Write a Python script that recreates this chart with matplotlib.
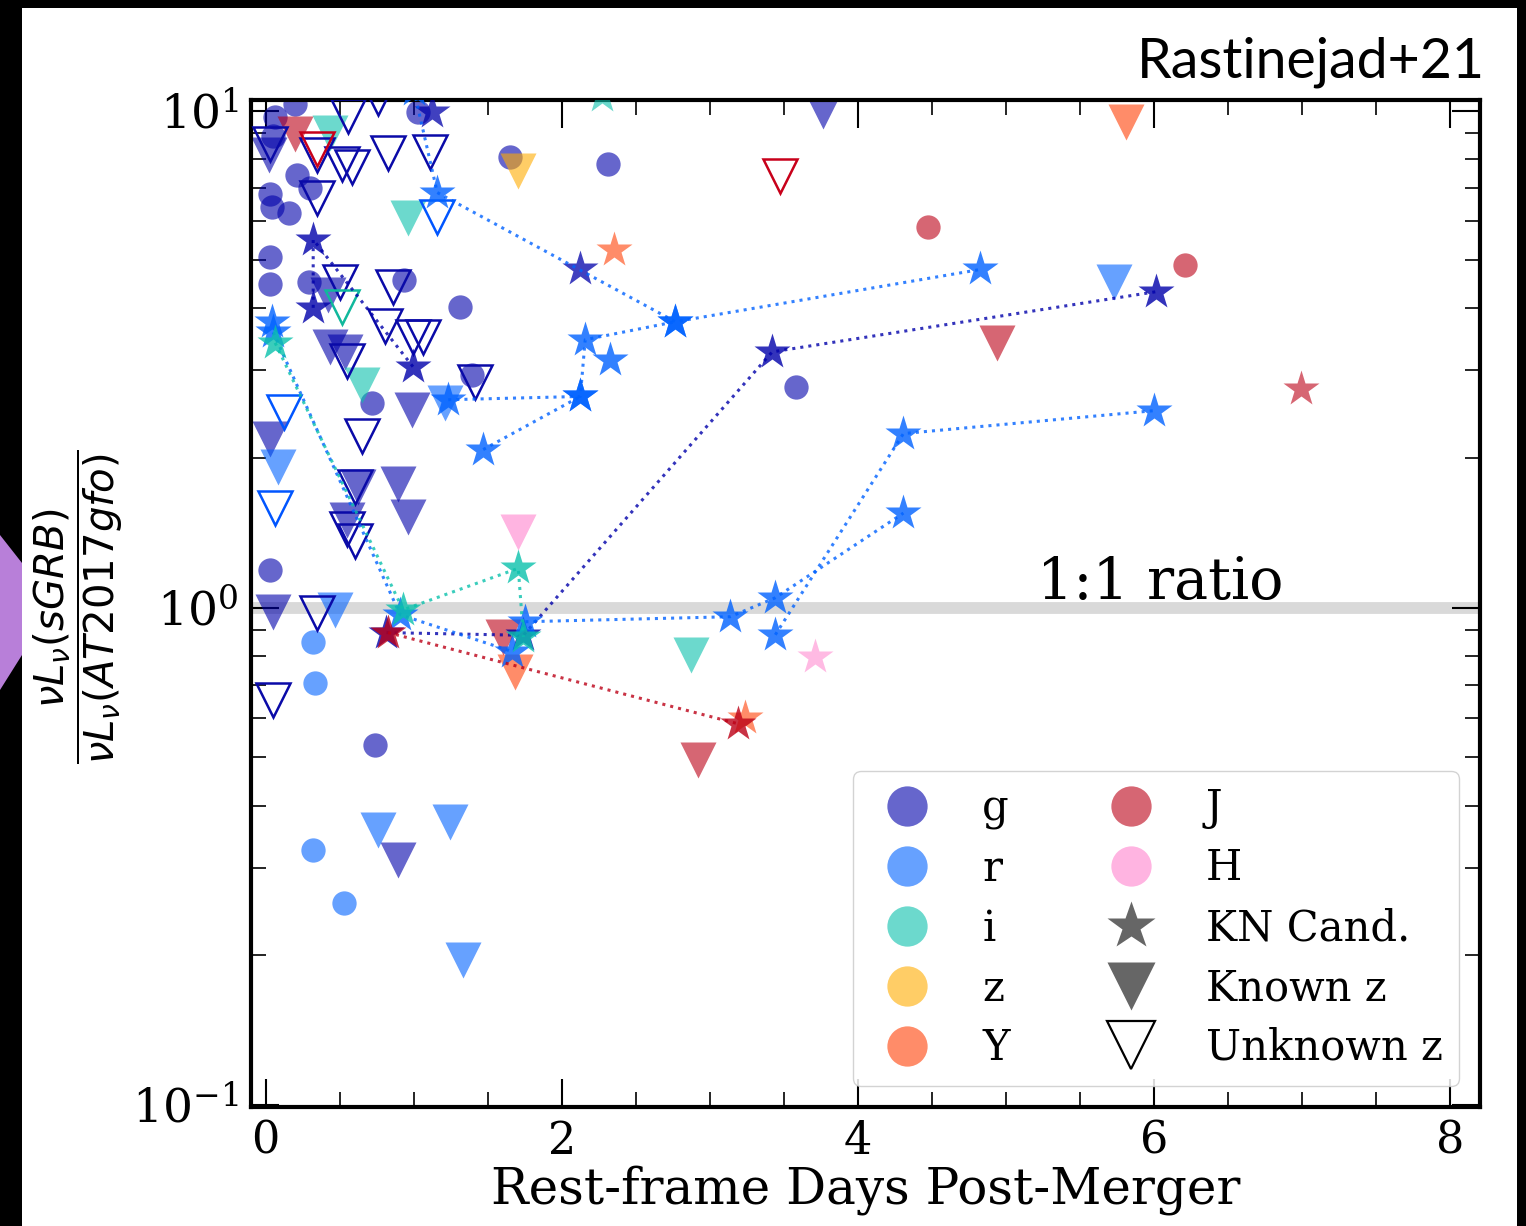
import matplotlib
matplotlib.use('Agg')
import matplotlib.pyplot as plt
from matplotlib.lines import Line2D
from matplotlib.patches import Rectangle, Polygon
from matplotlib.ticker import MultipleLocator, LogLocator, NullFormatter

plt.rcParams['font.family'] = 'DejaVu Serif'
plt.rcParams['mathtext.fontset'] = 'dejavusans'

# ---------------- colours per filter ----------------
C_G = '#0000AA'
C_R = '#0062FF'
C_I = '#0AC1AC'
C_Z = '#FFAC00'
C_Y = '#FF3F05'
C_J = '#BC0016'
C_H = '#FF82CD'

# ---------------- data: detections (circles) ----------------
g_circles = [(0.06, 9.72), (0.21, 7.43), (0.30, 6.97), (0.03, 6.78), (0.04, 6.41),
             (0.16, 6.21), (1.03, 9.95), (0.03, 5.08), (0.03, 4.47), (0.29, 4.53),
             (0.93, 4.57), (1.31, 4.03), (1.39, 2.94), (0.72, 2.58), (1.65, 8.08),
             (2.31, 7.82), (3.58, 2.78), (0.03, 1.19), (0.74, 0.53), (0.20, 10.3),
             (0.05, 8.9)]
r_circles = [(0.32, 0.854), (0.335, 0.707), (0.32, 0.325), (0.53, 0.255)]
J_circles = [(4.475, 5.82), (6.205, 4.88)]

# ---------------- data: upper limits, known z (filled triangles) ----------------
g_known = [(0.02, 8.15), (3.765, 10.0), (0.435, 3.34), (0.536, 3.27), (0.99, 2.50),
           (0.03, 2.18), (0.89, 1.77), (0.96, 1.52), (0.62, 1.75), (0.55, 1.50),
           (0.05, 0.98), (0.89, 0.311), (0.42, 4.25)]
r_known = [(0.083, 1.92), (0.47, 0.99), (0.76, 0.357), (1.245, 0.371), (1.333, 0.196),
           (5.725, 4.51), (1.21, 2.58)]
i_known = [(0.435, 9.0), (0.96, 6.09), (0.65, 2.81), (2.874, 0.804)]
z_known = [(1.706, 7.54)]
Y_known = [(5.807, 9.5), (1.685, 0.743)]
J_known = [(4.94, 3.41), (2.92, 0.494), (0.198, 8.95), (1.605, 0.874)]
H_known = [(1.706, 1.42)]

# ---------------- data: upper limits, unknown z (open triangles) ----------------
g_unknown = [(0.03, 8.55), (0.347, 8.15), (0.516, 7.79), (0.583, 7.71), (0.826, 8.23),
             (1.11, 8.27), (0.556, 9.73), (0.76, 10.6), (0.347, 6.68), (0.50, 4.53),
             (0.86, 4.42), (0.807, 3.68), (0.995, 3.51), (1.063, 3.51), (0.549, 3.13),
             (1.414, 2.84), (0.651, 2.21), (0.603, 1.75), (0.549, 1.44), (0.603, 1.36),
             (0.347, 0.977), (0.049, 0.653)]
r_unknown = [(0.12, 2.47), (0.063, 1.59), (1.158, 6.12)]
i_unknown = [(0.516, 4.03)]
J_unknown = [(0.347, 8.35), (3.475, 7.37)]

# ---------------- data: KN candidates (stars), isolated ----------------
g_stars = [(1.124, 9.91), (2.124, 4.79)]
r_stars = [(2.326, 3.15), (0.043, 3.76)]
i_stars = [(2.273, 10.7)]
Y_stars = [(2.353, 5.23), (3.238, 0.601)]
J_stars = [(6.99, 2.75)]
H_stars = [(3.711, 0.797)]

# ---------------- data: KN candidate light curves (stars + dotted) ----------------
g_track1 = [(0.32, 4.01), (0.32, 5.50), (0.995, 3.05)]
g_track2 = [(0.815, 0.891), (1.74, 0.88), (3.42, 3.27), (6.01, 4.32)]
r_track1 = [(1.0, 11.0), (1.158, 6.84), (2.766, 3.76), (4.826, 4.79)]
r_track2 = [(1.232, 2.62), (2.124, 2.66), (2.157, 3.46), (2.766, 3.76)]
r_track3 = [(1.468, 2.08), (2.124, 2.66)]
r_track4 = [(0.05, 3.58), (0.907, 0.968), (1.665, 0.816)]
r_track5 = [(1.753, 0.937), (3.137, 0.959), (3.441, 1.047), (4.306, 1.55)]
r_track6 = [(3.441, 0.882), (4.306, 2.24), (5.995, 2.49)]
i_track1 = [(0.063, 3.41), (0.927, 0.99), (1.705, 1.20), (1.74, 0.874)]
J_track1 = [(0.826, 0.891), (3.191, 0.584)]

legend_bands = ['g', 'r', 'i', 'z', 'Y', 'J', 'H']
legend_colors = [C_G, C_R, C_I, C_Z, C_Y, C_J, C_H]

W, H = 1526, 1226
fig = plt.figure(figsize=(W / 100, H / 100), dpi=100, facecolor='black')
fig.add_artist(Rectangle((22 / W, 0), (1517 - 22) / W, 1 - 8 / H,
                         transform=fig.transFigure, facecolor='white',
                         edgecolor='none', zorder=-10))
fig.add_artist(Polygon([(0, 1 - 535 / H), (22 / W, 1 - 563 / H),
                        (22 / W, 1 - 655 / H), (0, 1 - 690 / H)],
                       closed=True, transform=fig.transFigure,
                       facecolor='#B87FD9', edgecolor='none', zorder=-9))

ax = fig.add_axes([251 / W, 1 - 1107 / H, (1480 - 251) / W, (1107 - 100) / H])
ax.set_yscale('log')
ax.set_xlim(-0.1, 8.2)
ax.set_ylim(0.099, 10.5)

ax.axhline(1.0, color='#d9d9d9', lw=8.5, zorder=0.5)
ax.text(5.21, 1.04, '1:1 ratio', fontsize=41, ha='left', va='baseline', zorder=1)

A_FILL = 0.6
MS_C, MS_T, MS_S = 17.5, 26, 27.5


def xy(pts):
    return [p[0] for p in pts], [p[1] for p in pts]


def circles(pts, c):
    x, y = xy(pts)
    ax.plot(x, y, ls='', marker='o', ms=MS_C, mfc=c, mec='none', alpha=A_FILL, zorder=2)


def known(pts, c):
    x, y = xy(pts)
    ax.plot(x, y, ls='', marker='v', ms=MS_T, mfc=c, mec='none', alpha=A_FILL, zorder=2)


def unknown(pts, c):
    x, y = xy(pts)
    ax.plot(x, y, ls='', marker='v', ms=MS_T - 1, mfc='none', mec=c, mew=1.8, zorder=3)


def stars(pts, c, a=0.6):
    x, y = xy(pts)
    ax.plot(x, y, ls='', marker='*', ms=MS_S, mfc=c, mec='none', alpha=a, zorder=4)


def track(pts, c):
    x, y = xy(pts)
    ax.plot(x, y, ls=':', lw=2.2, color=c, alpha=0.8, marker='*', ms=MS_S,
            mfc=c, mec='none', zorder=5)


circles(g_circles, C_G)
circles(r_circles, C_R)
circles(J_circles, C_J)

known(g_known, C_G)
known(r_known, C_R)
known(i_known, C_I)
known(z_known, C_Z)
known(Y_known, C_Y)
known(J_known, C_J)
known(H_known, C_H)

unknown(g_unknown, '#0a0aa8')
unknown(r_unknown, '#0055ff')
unknown(i_unknown, '#10b89c')
unknown(J_unknown, '#c8001a')

stars(g_stars, C_G, 0.75)
stars(r_stars, C_R, 0.8)
stars(i_stars, C_I)
stars(Y_stars, C_Y)
stars(J_stars, C_J)
stars(H_stars, C_H, 0.55)

for t in (g_track1, g_track2):
    track(t, C_G)
for t in (r_track1, r_track2, r_track3, r_track4, r_track5, r_track6):
    track(t, C_R)
track(i_track1, C_I)
track(J_track1, C_J)

# axes styling
for s in ax.spines.values():
    s.set_linewidth(3)
ax.xaxis.set_major_locator(MultipleLocator(2))
ax.xaxis.set_minor_locator(MultipleLocator(0.5))
ax.yaxis.set_major_locator(LogLocator(base=10, numticks=10))
ax.yaxis.set_minor_locator(LogLocator(base=10, subs=[2, 3, 4, 5, 6, 7, 8, 9], numticks=20))
ax.yaxis.set_minor_formatter(NullFormatter())
ax.tick_params(which='both', direction='in', top=True, right=True)
ax.tick_params(which='major', length=20, width=1.5, pad=9)
ax.tick_params(axis='x', which='major', labelsize=32)
ax.tick_params(axis='y', which='major', labelsize=34)
ax.tick_params(which='minor', length=11, width=1.2)

ax.set_xlabel('Rest-frame Days Post-Merger', fontsize=36, labelpad=2)

fig.text(78 / W, 1 - 607 / H,
         r'$\dfrac{\nu L_\nu(sGRB)}{\nu L_\nu(AT2017gfo)}$',
         rotation=90, ha='center', va='center', fontsize=29)

fig.text(1485 / W, 1 - 78 / H, 'Rastinejad+21', ha='right', va='baseline',
         fontsize=40, family=['Lato', 'DejaVu Sans'])

handles = [Line2D([], [], ls='', marker='o', ms=29, mfc=c, mec='none', alpha=A_FILL)
           for c in legend_colors]
handles += [Line2D([], [], ls='', marker='*', ms=36, mfc='#666666', mec='none'),
            Line2D([], [], ls='', marker='v', ms=35, mfc='#666666', mec='none'),
            Line2D([], [], ls='', marker='v', ms=34, mfc='white', mec='black', mew=1.6)]
labels = legend_bands + ['KN Cand.', 'Known z', 'Unknown z']
leg = ax.legend(handles, labels, loc='lower right', ncol=2, fontsize=30,
                handlelength=1.8, handletextpad=0.9, columnspacing=2.0,
                labelspacing=0.43, borderpad=0.4, fancybox=True,
                edgecolor='#cccccc', framealpha=0.85)
leg.set_zorder(10)

fig.savefig('out.png', dpi=100, facecolor=fig.get_facecolor())
